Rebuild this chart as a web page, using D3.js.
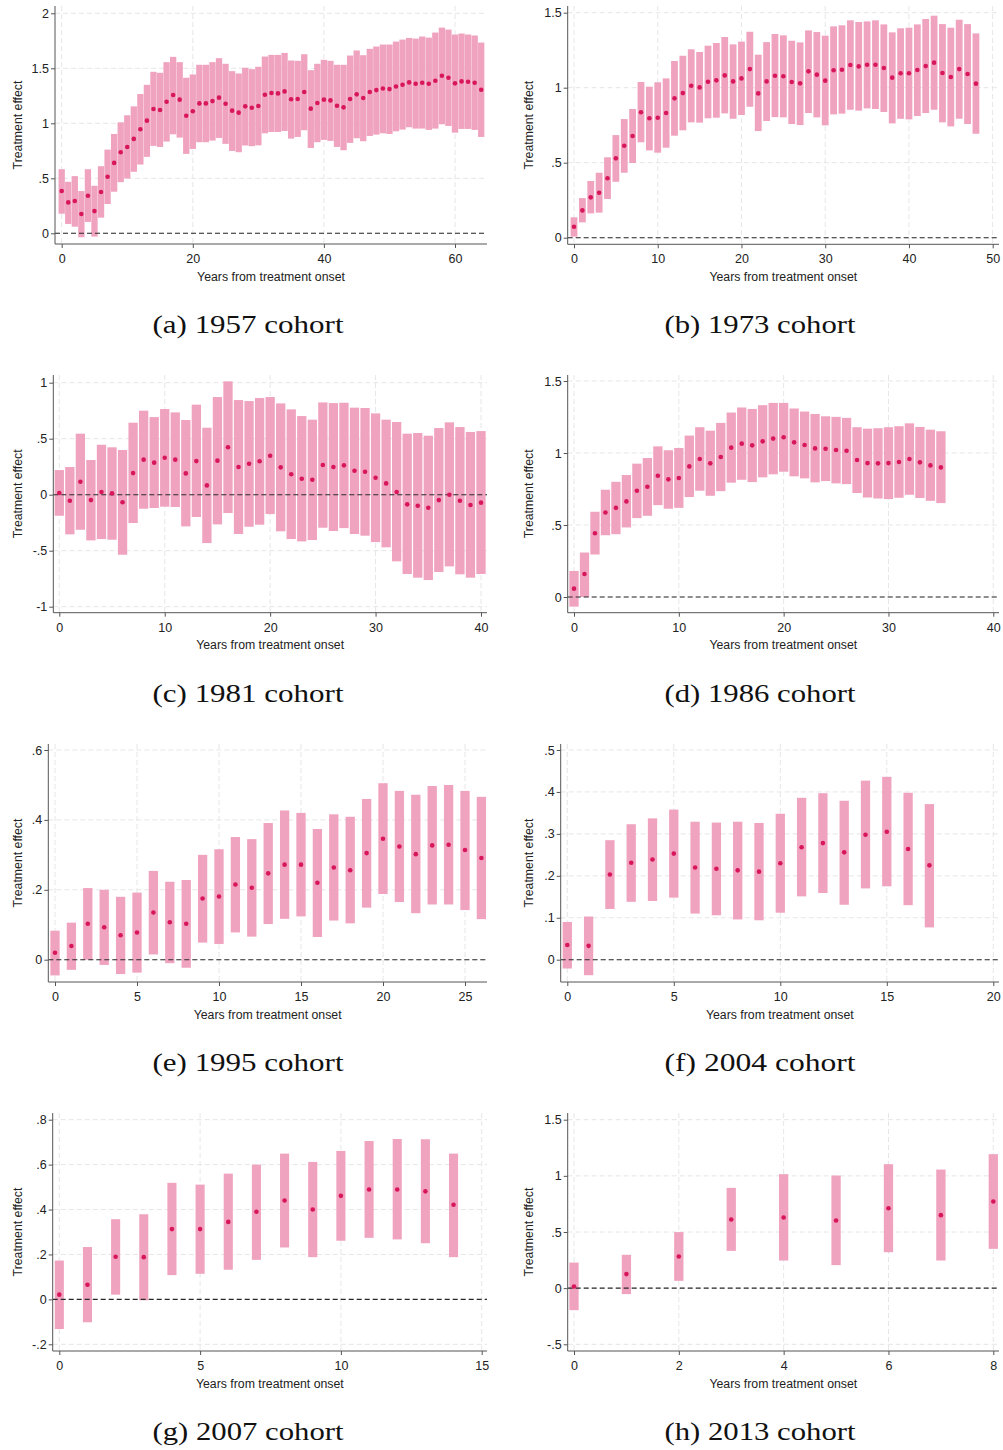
<!DOCTYPE html>
<html><head><meta charset="utf-8">
<script src="https://cdn.jsdelivr.net/npm/d3@7"></script>
<style>body{margin:0;background:#fff} svg{display:block}</style>
</head><body>
<svg id="c" width="1003" height="1450"></svg>
<script>
// ---------- DATA ----------
const captions = ["(a) 1957 cohort","(b) 1973 cohort","(c) 1981 cohort","(d) 1986 cohort",
                  "(e) 1995 cohort","(f) 2004 cohort","(g) 2007 cohort","(h) 2013 cohort"];
const xAxisTitle = "Years from treatment onset";
const yAxisTitle = "Treatment effect";

const est1957 = [0.384,0.281,0.293,0.175,0.341,0.202,0.375,0.514,0.640,0.737,0.785,0.858,0.946,1.024,1.130,1.121,1.196,1.257,1.215,1.069,1.109,1.181,1.181,1.202,1.233,1.178,1.115,1.097,1.154,1.142,1.157,1.260,1.275,1.272,1.290,1.218,1.221,1.284,1.133,1.184,1.215,1.208,1.160,1.145,1.221,1.263,1.230,1.284,1.302,1.317,1.311,1.335,1.350,1.372,1.360,1.369,1.360,1.387,1.432,1.414,1.363,1.381,1.378,1.369,1.305];
const hi1957 = [0.583,0.468,0.520,0.384,0.583,0.432,0.610,0.761,0.903,1.009,1.073,1.154,1.266,1.350,1.468,1.459,1.556,1.604,1.556,1.414,1.444,1.532,1.532,1.556,1.592,1.541,1.474,1.453,1.505,1.492,1.514,1.607,1.622,1.622,1.640,1.571,1.568,1.628,1.483,1.541,1.577,1.568,1.532,1.532,1.616,1.662,1.619,1.677,1.698,1.716,1.716,1.743,1.761,1.776,1.770,1.789,1.779,1.825,1.870,1.852,1.807,1.816,1.807,1.798,1.734];
const lo1957 = [0.178,0.085,0.060,-0.036,0.103,-0.030,0.142,0.266,0.378,0.465,0.498,0.559,0.625,0.695,0.795,0.785,0.834,0.900,0.870,0.722,0.767,0.828,0.828,0.843,0.867,0.813,0.749,0.737,0.798,0.792,0.800,0.909,0.921,0.921,0.930,0.861,0.876,0.937,0.776,0.828,0.849,0.840,0.785,0.755,0.822,0.864,0.837,0.885,0.897,0.909,0.903,0.927,0.943,0.964,0.952,0.952,0.940,0.952,0.991,0.976,0.915,0.949,0.949,0.940,0.876];

const est1973 = [0.073,0.182,0.269,0.300,0.396,0.529,0.613,0.678,0.836,0.796,0.800,0.831,0.929,0.964,1.013,1.002,1.040,1.049,1.082,1.042,1.062,1.124,0.962,1.042,1.080,1.076,1.038,1.029,1.109,1.087,1.047,1.116,1.120,1.151,1.142,1.153,1.153,1.131,1.067,1.096,1.096,1.118,1.144,1.167,1.098,1.071,1.124,1.091,1.027];
const hi1973 = [0.136,0.264,0.378,0.433,0.536,0.684,0.791,0.858,1.038,1.007,1.036,1.062,1.178,1.213,1.256,1.238,1.280,1.298,1.338,1.289,1.307,1.373,1.220,1.304,1.358,1.349,1.313,1.302,1.382,1.371,1.347,1.409,1.416,1.449,1.438,1.442,1.449,1.422,1.369,1.396,1.400,1.422,1.458,1.480,1.424,1.400,1.453,1.424,1.362];
const lo1973 = [0.007,0.102,0.162,0.167,0.258,0.373,0.433,0.498,0.636,0.582,0.567,0.600,0.680,0.716,0.769,0.767,0.796,0.800,0.829,0.793,0.818,0.873,0.711,0.778,0.804,0.802,0.758,0.751,0.831,0.802,0.749,0.822,0.827,0.853,0.847,0.862,0.858,0.838,0.762,0.793,0.789,0.811,0.831,0.853,0.769,0.742,0.793,0.758,0.693];

const est1981 = [0.015,-0.054,0.116,-0.048,0.024,0.012,-0.068,0.193,0.313,0.286,0.330,0.313,0.190,0.300,0.083,0.304,0.423,0.247,0.277,0.298,0.348,0.244,0.182,0.143,0.134,0.265,0.247,0.262,0.214,0.205,0.152,0.101,0.024,-0.086,-0.098,-0.116,-0.048,0.000,-0.054,-0.092,-0.071];
const hi1981 = [0.220,0.247,0.545,0.310,0.446,0.423,0.399,0.643,0.750,0.693,0.765,0.735,0.667,0.804,0.598,0.872,1.012,0.845,0.836,0.863,0.872,0.815,0.762,0.702,0.670,0.824,0.818,0.821,0.777,0.774,0.726,0.670,0.649,0.545,0.551,0.527,0.595,0.646,0.604,0.560,0.568];
const lo1981 = [-0.188,-0.354,-0.313,-0.408,-0.396,-0.402,-0.536,-0.253,-0.125,-0.119,-0.107,-0.110,-0.283,-0.199,-0.432,-0.265,-0.164,-0.351,-0.286,-0.268,-0.173,-0.327,-0.396,-0.417,-0.405,-0.295,-0.324,-0.298,-0.351,-0.366,-0.423,-0.470,-0.595,-0.708,-0.741,-0.762,-0.690,-0.640,-0.711,-0.741,-0.708];

const est1986 = [0.058,0.160,0.443,0.587,0.619,0.664,0.738,0.766,0.842,0.817,0.826,0.907,0.958,0.928,0.972,1.037,1.065,1.053,1.081,1.100,1.109,1.074,1.056,1.032,1.030,1.021,1.016,0.951,0.930,0.928,0.930,0.937,0.958,0.935,0.914,0.900];
const hi1986 = [0.181,0.309,0.592,0.745,0.800,0.847,0.926,0.965,1.046,1.019,1.035,1.121,1.179,1.155,1.209,1.281,1.316,1.306,1.332,1.348,1.348,1.309,1.288,1.271,1.255,1.251,1.244,1.179,1.169,1.172,1.179,1.186,1.206,1.181,1.162,1.151];
const lo1986 = [-0.067,0.000,0.295,0.429,0.436,0.483,0.548,0.564,0.638,0.613,0.619,0.694,0.738,0.703,0.735,0.794,0.814,0.798,0.831,0.852,0.870,0.838,0.824,0.796,0.805,0.789,0.784,0.722,0.691,0.684,0.680,0.689,0.710,0.687,0.668,0.652];

const est1995 = [0.020,0.039,0.103,0.093,0.070,0.078,0.135,0.107,0.103,0.175,0.181,0.215,0.206,0.247,0.272,0.272,0.220,0.264,0.256,0.305,0.346,0.324,0.302,0.327,0.329,0.314,0.291];
const hi1995 = [0.083,0.106,0.205,0.200,0.180,0.192,0.254,0.223,0.228,0.300,0.316,0.351,0.345,0.391,0.427,0.420,0.374,0.416,0.409,0.460,0.505,0.483,0.472,0.497,0.500,0.483,0.466];
const lo1995 = [-0.045,-0.029,0.000,-0.015,-0.041,-0.037,0.015,-0.010,-0.023,0.049,0.045,0.078,0.066,0.102,0.117,0.124,0.065,0.112,0.104,0.149,0.188,0.165,0.133,0.158,0.158,0.142,0.116];

const est2004 = [0.035,0.033,0.203,0.231,0.239,0.253,0.220,0.217,0.213,0.210,0.230,0.268,0.278,0.256,0.298,0.305,0.264,0.225];
const hi2004 = [0.090,0.103,0.285,0.323,0.337,0.358,0.329,0.327,0.329,0.326,0.348,0.386,0.397,0.379,0.427,0.436,0.398,0.371];
const lo2004 = [-0.021,-0.037,0.121,0.138,0.140,0.148,0.110,0.106,0.096,0.094,0.112,0.151,0.159,0.131,0.170,0.175,0.130,0.077];

const est2007 = [0.021,0.065,0.190,0.188,0.313,0.313,0.345,0.390,0.440,0.400,0.461,0.489,0.489,0.481,0.421];
const hi2007 = [0.173,0.233,0.357,0.379,0.519,0.511,0.560,0.600,0.649,0.612,0.661,0.705,0.714,0.713,0.649];
const lo2007 = [-0.132,-0.102,0.021,-0.004,0.108,0.114,0.132,0.176,0.231,0.188,0.261,0.274,0.267,0.250,0.188];

const est2013 = [0.015,0.125,0.282,0.611,0.629,0.602,0.712,0.650,0.772];
const hi2013 = [0.228,0.297,0.499,0.893,1.015,1.003,1.104,1.056,1.193];
const lo2013 = [-0.196,-0.053,0.065,0.332,0.246,0.205,0.320,0.246,0.350];

const xTicks1957 = [0,20,40,60],          yTicks1957 = [0,0.5,1,1.5,2];
const xTicks1973 = [0,10,20,30,40,50],    yTicks1973 = [0,0.5,1,1.5];
const xTicks1981 = [0,10,20,30,40],       yTicks1981 = [-1,-0.5,0,0.5,1];
const xTicks1986 = [0,10,20,30,40],       yTicks1986 = [0,0.5,1,1.5];
const xTicks1995 = [0,5,10,15,20,25],     yTicks1995 = [0,0.2,0.4,0.6];
const xTicks2004 = [0,5,10,15,20],        yTicks2004 = [0,0.1,0.2,0.3,0.4,0.5];
const xTicks2007 = [0,5,10,15],           yTicks2007 = [-0.2,0,0.2,0.4,0.6,0.8];
const xTicks2013 = [0,2,4,6,8],           yTicks2013 = [-0.5,0,0.5,1,1.5];

// ---------- LAYOUT (pixel frames) ----------
const panels = [
 {est:est1957, lo:lo1957, hi:hi1957, xt:xTicks1957, yt:yTicks1957, cap:captions[0], L:55,   R:487, T:6,    B:244,   xr:[61.7,455],   yr:[233.3,13.3],   bw:6.3, col:0, row:0},
 {est:est1973, lo:lo1973, hi:hi1973, xt:xTicks1973, yt:yTicks1973, cap:captions[1], L:567.7,R:999, T:6,    B:244.3, xr:[574,992.7],  yr:[237.7,12.7],   bw:6.8, col:1, row:0},
 {est:est1981, lo:lo1981, hi:hi1981, xt:xTicks1981, yt:yTicks1981, cap:captions[2], L:53.3, R:487, T:375,  B:612.7, xr:[59.3,481],   yr:[606.7,382.7],  bw:9.3, col:0, row:1},
 {est:est1986, lo:lo1986, hi:hi1986, xt:xTicks1986, yt:yTicks1986, cap:captions[3], L:567.7,R:999, T:375,  B:612.7, xr:[574,993.3],  yr:[597,381],      bw:9.3, col:1, row:1},
 {est:est1995, lo:lo1995, hi:hi1995, xt:xTicks1995, yt:yTicks1995, cap:captions[4], L:48.3, R:487, T:744,  B:982,   xr:[55,465],     yr:[959.7,750],    bw:9.3, col:0, row:2},
 {est:est2004, lo:lo2004, hi:hi2004, xt:xTicks2004, yt:yTicks2004, cap:captions[5], L:560.7,R:999, T:744,  B:982,   xr:[567.3,993.3],yr:[959.7,750],    bw:9.3, col:1, row:2},
 {est:est2007, lo:lo2007, hi:hi2007, xt:xTicks2007, yt:yTicks2007, cap:captions[6], L:52.7, R:487, T:1113, B:1351,  xr:[59.3,481.7], yr:[1344.3,1119.7],bw:9.1, col:0, row:3},
 {est:est2013, lo:lo2013, hi:hi2013, xt:xTicks2013, yt:yTicks2013, cap:captions[7], L:567.7,R:999, T:1113, B:1351,  xr:[574,993.3],  yr:[1344.3,1119.7],bw:9.3, col:1, row:3}
];
const capX = [248, 760];
const capY = [333, 702, 1071, 1440];

const SANS = "'Liberation Sans', Arial, sans-serif";
const fmt = v => String(v).replace(/^(-?)0\./, "$1.");

const svg = d3.select("#c");
svg.append("rect").attr("width",1003).attr("height",1450).attr("fill","#fff");

panels.forEach(p => {
  const x = d3.scaleLinear().domain([p.xt[0], p.xt[p.xt.length-1]]).range(p.xr);
  const y = d3.scaleLinear().domain([p.yt[0], p.yt[p.yt.length-1]]).range(p.yr);
  const g = svg.append("g");
  const yrs = d3.range(p.est.length);

  // grid
  g.append("g").selectAll("line").data(p.yt).join("line")
    .attr("x1", p.L).attr("x2", p.R).attr("y1", d => y(d)).attr("y2", d => y(d))
    .attr("stroke", "#e6e6e6").attr("stroke-width", 1).attr("stroke-dasharray", "5,3");
  g.append("g").selectAll("line").data(p.xt).join("line")
    .attr("y1", p.T).attr("y2", p.B).attr("x1", d => x(d)).attr("x2", d => x(d))
    .attr("stroke", "#e6e6e6").attr("stroke-width", 1).attr("stroke-dasharray", "5,3");

  // CI bars
  g.append("g").selectAll("rect").data(yrs).join("rect")
    .attr("x", i => x(i) - p.bw/2).attr("width", p.bw)
    .attr("y", i => y(p.hi[i])).attr("height", i => y(p.lo[i]) - y(p.hi[i]))
    .attr("fill", "#f0a3bf");

  // zero line
  g.append("line").attr("x1", p.L).attr("x2", p.R).attr("y1", y(0)).attr("y2", y(0))
    .attr("stroke", "#2a2a2a").attr("stroke-width", 1.1).attr("stroke-dasharray", "5,3");

  // point estimates
  g.append("g").selectAll("circle").data(yrs).join("circle")
    .attr("cx", i => x(i)).attr("cy", i => y(p.est[i])).attr("r", 2.3)
    .attr("fill", "#d8165c");

  // axes
  const xa = g.append("g").attr("transform", `translate(0,${p.B})`)
    .call(d3.axisBottom(x).tickValues(p.xt).tickFormat(fmt).tickSize(4).tickPadding(6));
  const ya = g.append("g").attr("transform", `translate(${p.L},0)`)
    .call(d3.axisLeft(y).tickValues(p.yt).tickFormat(fmt).tickSize(4).tickPadding(2));
  [xa, ya].forEach(a => {
    a.select(".domain").remove();
    a.attr("font-family", SANS).attr("font-size", 12.5);
    a.selectAll("line").attr("stroke", "#555");
    a.selectAll("text").attr("fill", "#222");
  });
  g.append("line").attr("x1", p.L).attr("x2", p.R).attr("y1", p.B).attr("y2", p.B).attr("stroke", "#555");
  g.append("line").attr("x1", p.L).attr("x2", p.L).attr("y1", p.T).attr("y2", p.B).attr("stroke", "#555");

  // axis titles
  g.append("text").attr("x", (p.L + p.R)/2).attr("y", p.B + 36.5)
    .attr("text-anchor", "middle").attr("font-family", SANS).attr("font-size", 12.3).attr("fill", "#222")
    .text(xAxisTitle);
  const yl = p.col === 0 ? 22 : 533;
  g.append("text").attr("transform", `translate(${yl},${(p.T + p.B)/2}) rotate(-90)`)
    .attr("text-anchor", "middle").attr("font-family", SANS).attr("font-size", 12.3).attr("fill", "#222")
    .text(yAxisTitle);

  // caption
  g.append("text").attr("x", capX[p.col]).attr("y", capY[p.row])
    .attr("text-anchor", "middle").attr("font-family", "'Liberation Serif', 'Times New Roman', serif")
    .attr("font-size", 25).attr("fill", "#111")
    .attr("textLength", 191).attr("lengthAdjust", "spacingAndGlyphs")
    .text(p.cap);
});
</script>
</body></html>
